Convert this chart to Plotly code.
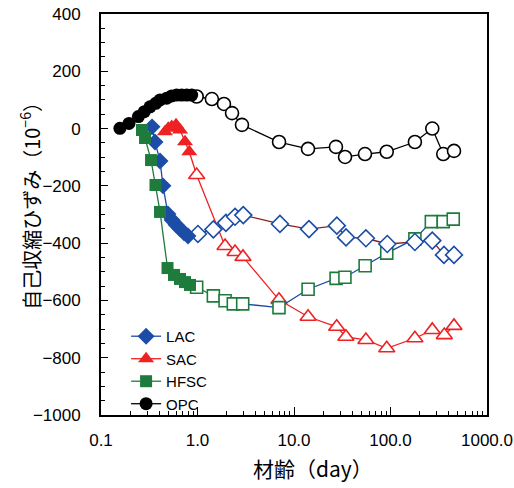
import plotly.graph_objects as go

# ---------------- data ----------------
lac_fill_x = [0.338, 0.363, 0.409, 0.439, 0.494, 0.545, 0.599, 0.659, 0.725, 0.797]
lac_fill_y = [6, -47, -113, -200, -298, -319, -336, -350, -364, -375]
lac_open_x = [1.01, 1.46, 1.97, 2.45, 2.98, 7.15, 14.3, 27.8, 34.6, 55.6, 92.6, 179, 271, 358, 455]
lac_open_y = [-368, -352, -329, -308, -302, -333, -351, -339, -380, -383, -403, -396, -391, -441, -441]

sac_fill_x = [0.46, 0.498, 0.54, 0.599, 0.66, 0.742, 0.822]
sac_fill_y = [-11, 1, 7, 13, -5, -46, -81]
sac_open_x = [0.98, 1.93, 2.45, 2.96, 6.99, 14.0, 27.7, 34.5, 55.6, 91.4, 179, 271, 361, 455]
sac_open_y = [-162, -410, -431, -448, -598, -657, -692, -727, -738, -767, -732, -703, -721, -689]

hfsc_fill_x = [0.266, 0.286, 0.33, 0.367, 0.409, 0.489, 0.571, 0.659, 0.742, 0.836]
hfsc_fill_y = [-5, -33, -110, -197, -291, -487, -511, -525, -536, -546]
hfsc_open_x = [0.98, 1.46, 1.93, 2.35, 2.94, 6.99, 14.0, 27.3, 33.7, 54.6, 91.4, 179, 265, 352, 447]
hfsc_open_y = [-554, -584, -601, -612, -612, -625, -561, -523, -519, -479, -435, -385, -325, -325, -316]

opc_fill_x = [0.157, 0.195, 0.244, 0.281, 0.322, 0.369, 0.409, 0.48, 0.54, 0.608, 0.686, 0.773, 0.871]
opc_fill_y = [1, 18, 42, 59, 76, 88, 100, 106, 114, 117, 117, 117, 117]
opc_open_x = [0.98, 1.41, 1.88, 2.28, 2.89, 7.0, 13.97, 27.2, 33.8, 54.4, 91.4, 179, 271, 352, 455]
opc_open_y = [112, 103, 86, 54, 13, -47, -71, -64, -99, -89, -81, -47, 0, -89, -78]

x_tickvals = [0.1, 1, 10, 100, 1000]
x_ticktext = ["0.1", "1.0", "10.0", "100.0", "1000.0"]
x_minor_vals = [k * 10.0 ** d for d in range(-1, 3) for k in range(2, 10)]

x_title = "材齢（day）"
y_title = "自己収縮ひずみ（10<sup>−6</sup>）"

# ---------------- styles ----------------
C_LAC = "#1B4DA6"
C_SAC = "#EE2222"
C_HFSC = "#1E7B3C"
C_OPC = "#000000"
C_MAROON = "#8B1C1C"

fig = go.Figure()

def connector(xa, ya, xb, yb, color):
    fig.add_trace(go.Scatter(x=[xa[-1], xb[0]], y=[ya[-1], yb[0]], mode="lines",
                             line=dict(color=color, width=1.3), showlegend=False, hoverinfo="skip"))

def open_line(xs, ys, color):
    fig.add_trace(go.Scatter(x=xs, y=ys, mode="lines", line=dict(color=color, width=1.3),
                             showlegend=False, hoverinfo="skip"))

def open_markers(xs, ys, symbol, color, size):
    fig.add_trace(go.Scatter(x=xs, y=ys, mode="markers",
                             marker=dict(symbol=symbol, size=size, color="white",
                                         line=dict(color=color, width=1.6)),
                             showlegend=False))

# OPC
open_line(opc_open_x, opc_open_y, C_OPC)
open_markers(opc_open_x, opc_open_y, "circle", C_OPC, 13)
connector(opc_fill_x, opc_fill_y, opc_open_x, opc_open_y, C_OPC)

# SAC
open_line(sac_open_x, sac_open_y, C_SAC)
connector(sac_fill_x, sac_fill_y, sac_open_x, sac_open_y, C_SAC)
open_markers(sac_open_x, sac_open_y, "triangle-up", C_SAC, 14)

# HFSC (late segment line drawn in blue)
open_line(hfsc_open_x[:5], hfsc_open_y[:5], C_HFSC)
open_line(hfsc_open_x[4:], hfsc_open_y[4:], C_LAC)
connector(hfsc_fill_x, hfsc_fill_y, hfsc_open_x, hfsc_open_y, C_HFSC)
open_markers(hfsc_open_x, hfsc_open_y, "square", C_HFSC, 12)

# LAC (late segment line drawn in maroon)
open_line(lac_open_x, lac_open_y, C_MAROON)
connector(lac_fill_x, lac_fill_y, lac_open_x, lac_open_y, C_LAC)
open_markers(lac_open_x, lac_open_y, "diamond", C_LAC, 13)

# filled parts with legend entries
fig.add_trace(go.Scatter(x=lac_fill_x, y=lac_fill_y, mode="lines+markers", name="LAC",
                         line=dict(color=C_LAC, width=1.3),
                         marker=dict(symbol="diamond", size=13, color=C_LAC)))
fig.add_trace(go.Scatter(x=sac_fill_x, y=sac_fill_y, mode="lines+markers", name="SAC",
                         line=dict(color=C_SAC, width=1.3),
                         marker=dict(symbol="triangle-up", size=14, color=C_SAC)))
fig.add_trace(go.Scatter(x=hfsc_fill_x, y=hfsc_fill_y, mode="lines+markers", name="HFSC",
                         line=dict(color=C_HFSC, width=1.3),
                         marker=dict(symbol="square", size=12, color=C_HFSC)))
fig.add_trace(go.Scatter(x=opc_fill_x, y=opc_fill_y, mode="lines+markers", name="OPC",
                         line=dict(color=C_OPC, width=1.3),
                         marker=dict(symbol="circle", size=13, color=C_OPC)))

FONT = "Arial, 'Liberation Sans', 'Noto Sans CJK JP', sans-serif"
CJK = "'Noto Sans CJK JP', Arial, sans-serif"

fig.update_layout(
    width=514, height=488,
    margin=dict(l=101, r=27, t=14, b=73, autoexpand=False),
    paper_bgcolor="white", plot_bgcolor="white",
    font=dict(family=FONT, size=17, color="black"),
    legend=dict(x=0.065, y=0.237, xanchor="left", yanchor="top",
                bgcolor="rgba(0,0,0,0)", font=dict(size=15), tracegroupgap=0,
                itemwidth=30),
    showlegend=True,
    annotations=[
        dict(text=x_title, xref="paper", yref="paper", x=0.548, y=-0.132,
             xanchor="center", yanchor="middle", showarrow=False,
             font=dict(size=21, family=CJK)),
        dict(text=y_title, xref="paper", yref="paper", x=-0.184, y=0.534,
             xanchor="center", yanchor="middle", showarrow=False, textangle=-90,
             font=dict(size=20, family=CJK)),
    ],
)

fig.update_xaxes(
    type="log", range=[-1, 3], automargin=False,
    tickvals=x_tickvals, ticktext=x_ticktext,
    ticks="inside", ticklen=8, tickwidth=1.2, tickcolor="black",
    minor=dict(ticks="inside", ticklen=4, tickvals=x_minor_vals, tickwidth=1,
               tickcolor="black", showgrid=False),
    showline=True, linecolor="black", linewidth=1.8, mirror=True,
    showgrid=False, zeroline=False,
    ticklabelstandoff=9,
)
fig.update_yaxes(
    range=[-1000, 400], dtick=200, tick0=0, automargin=False,
    ticks="inside", ticklen=7, tickwidth=1.2, tickcolor="black",
    minor=dict(ticks="inside", ticklen=4, dtick=50, tickwidth=1, tickcolor="black", showgrid=False),
    showline=True, linecolor="black", linewidth=1.8, mirror=True,
    showgrid=False, zeroline=False,
    ticklabelstandoff=15,
)

# remove the default 8px page margin so the 514x488 figure fills the window
fig.write_html("out.html", config={"displayModeBar": False},
               post_script="document.body.style.margin='0px';")
